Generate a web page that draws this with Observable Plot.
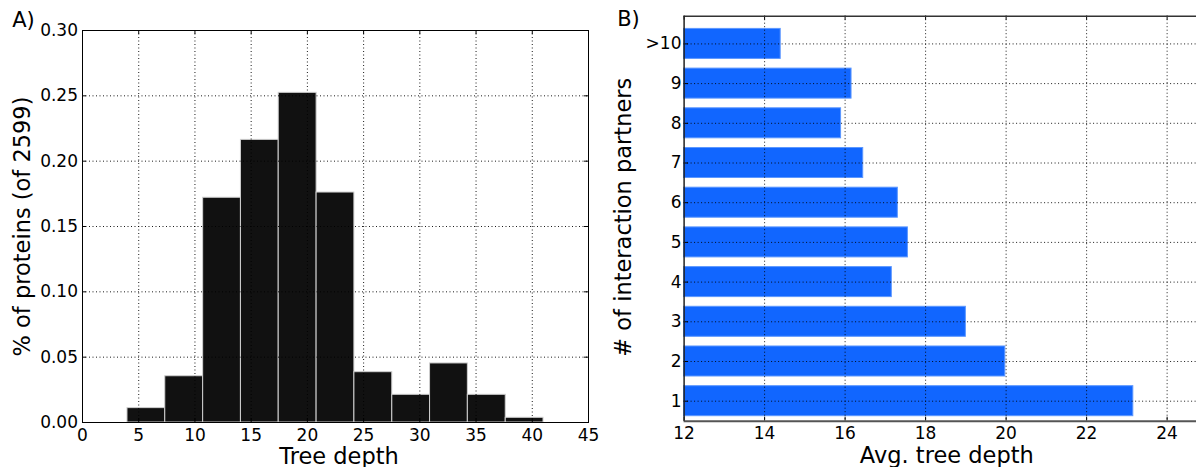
<!DOCTYPE html>
<html><head><meta charset="utf-8">
<script src="https://cdn.jsdelivr.net/npm/d3@7"></script>
<script src="https://cdn.jsdelivr.net/npm/@observablehq/plot@0.6"></script>
<style>
body{margin:0;background:#fff;font-family:"DejaVu Sans",sans-serif;}
#wrap{width:1196px;height:467px;display:flex;overflow:hidden;}
#wrap svg{display:block;}
</style></head><body>
<div id="wrap"><div id="a"></div><div id="b"></div></div>
<script>
// Panel A: histogram of tree depth
const depthBinEdges = [4, 7.36, 10.73, 14.09, 17.45, 20.82, 24.18, 27.55, 30.91, 34.27, 37.64, 41];
const proteinShare = [0.011, 0.0354, 0.172, 0.2163, 0.2523, 0.176, 0.0385, 0.0212, 0.0452, 0.0212, 0.0036];
const depthTicks = [0, 5, 10, 15, 20, 25, 30, 35, 40, 45];
const shareTicks = [0, 0.05, 0.10, 0.15, 0.20, 0.25, 0.30];

// Panel B: average tree depth per number of interaction partners
const partnerLabels = ["1", "2", "3", "4", "5", "6", "7", "8", "9", ">10"];
const avgDepth = [23.16, 19.98, 19.0, 17.16, 17.56, 17.31, 16.45, 15.90, 16.16, 14.40];
const avgDepthTicks = [12, 14, 16, 18, 20, 22, 24];

const FONT = "DejaVu Sans";
const TICKFS = 17, LABELFS = 22.5, TAGFS = 21;

const hist = proteinShare.map((v, i) => ({x1: depthBinEdges[i], x2: depthBinEdges[i + 1], share: v}));

const hA = 467, mtA = 30, mbA = 45;
const frameHA = hA - mtA - mbA;
const mlA = 82, mrA = 12, wA = 600;
const frameWA = wA - mlA - mrA;

const plotA = Plot.plot({
  width: wA, height: hA,
  marginLeft: mlA, marginRight: mrA, marginTop: mtA, marginBottom: mbA,
  style: {fontFamily: FONT, color: "black", background: "white", overflow: "visible"},
  x: {domain: [0, 45], label: null},
  y: {domain: [0, 0.30], label: null},
  marks: [
    Plot.rect(hist, {x1: "x1", x2: "x2", y1: 0, y2: "share", fill: "#111", stroke: "#d0d0d0", strokeWidth: 1}),
    Plot.gridX(depthTicks.slice(1, -1), {stroke: "black", strokeOpacity: 0.9, strokeDasharray: "1,2.5"}),
    Plot.gridY(shareTicks.slice(1, -1), {stroke: "black", strokeOpacity: 0.9, strokeDasharray: "1,2.5"}),
    // inward tick marks
    Plot.ruleX(depthTicks, {insetTop: frameHA - 4, stroke: "black"}),
    Plot.ruleX(depthTicks, {insetBottom: frameHA - 4, stroke: "black"}),
    Plot.ruleY(shareTicks, {insetRight: frameWA - 4, stroke: "black"}),
    Plot.ruleY(shareTicks, {insetLeft: frameWA - 4, stroke: "black"}),
    Plot.frame({stroke: "black"}),
    Plot.axisX(depthTicks, {tickSize: 0, tickPadding: 6, fontSize: TICKFS, label: null}),
    Plot.axisY(shareTicks, {tickSize: 0, tickPadding: 4.5, fontSize: TICKFS, tickFormat: d3.format(".2f"), label: null}),
    Plot.text(["Tree depth"], {frameAnchor: "bottom", dx: 3.5, dy: 34.3, fontSize: LABELFS, lineAnchor: "middle"}),
    Plot.text(["% of proteins (of 2599)"], {frameAnchor: "left", rotate: -90, dx: -59.5, dy: 0, fontSize: LABELFS, lineAnchor: "middle", textAnchor: "middle"}),
    Plot.text(["A)"], {frameAnchor: "top-left", dx: -70.3, dy: -10.2, fontSize: TAGFS, lineAnchor: "middle", textAnchor: "start"})
  ]
});
document.getElementById("a").append(plotA);

// Panel B
const bars = avgDepth.map((v, i) => ({k: i + 1, label: partnerLabels[i], v}));
const hB = 467, mtB = 15.7, mbB = 46.3, mlB = 83.6, mrB = 0, wB = 596;
const frameHB = hB - mtB - mbB;
const yDomB = [0.496, 10.698];
const xDomB = [12, 24.73];
const barHalf = 0.378;

const plotB = Plot.plot({
  width: wB, height: hB,
  marginLeft: mlB, marginRight: mrB, marginTop: mtB, marginBottom: mbB,
  style: {fontFamily: FONT, color: "black", background: "white", overflow: "visible"},
  x: {domain: xDomB, label: null},
  y: {domain: yDomB, label: null},
  marks: [
    Plot.rect(bars, {x1: xDomB[0], x2: "v", y1: d => d.k - barHalf, y2: d => d.k + barHalf, fill: "#1166ff", stroke: "#5c97ff", strokeWidth: 1}),
    Plot.gridX(avgDepthTicks.slice(1), {stroke: "black", strokeOpacity: 0.9, strokeDasharray: "1,2.5"}),
    Plot.gridY(bars.map(d => d.k), {stroke: "black", strokeOpacity: 0.9, strokeDasharray: "1,2.5"}),
    Plot.ruleX(avgDepthTicks, {insetTop: frameHB - 4, stroke: "black"}),
    Plot.ruleX(avgDepthTicks, {insetBottom: frameHB - 4, stroke: "black"}),
    Plot.ruleY(bars.map(d => d.k), {x1: xDomB[0], x2: xDomB[1], insetRight: 512 - 4, stroke: "black"}),
    Plot.ruleY([yDomB[1]], {stroke: "#333", strokeWidth: 1.5}),
    Plot.ruleY([yDomB[0]], {stroke: "#555", strokeWidth: 2}),
    Plot.ruleX([xDomB[0]], {stroke: "#222", strokeWidth: 1.5}),
    Plot.axisX(avgDepthTicks, {tickSize: 0, tickPadding: 6, fontSize: TICKFS, label: null}),
    Plot.axisY(bars.map(d => d.k), {tickSize: 0, tickPadding: 2.6, fontSize: TICKFS, tickFormat: k => partnerLabels[k - 1], label: null}),
    Plot.text(["Avg. tree depth"], {frameAnchor: "bottom", dx: 6.5, dy: 34.6, fontSize: LABELFS, lineAnchor: "middle"}),
    Plot.text(["# of interaction partners"], {frameAnchor: "left", rotate: -90, dx: -60, dy: -1.5, fontSize: LABELFS, lineAnchor: "middle", textAnchor: "middle"}),
    Plot.text(["B)"], {frameAnchor: "top-left", dx: -66.9, dy: 2.6, fontSize: TAGFS, lineAnchor: "middle", textAnchor: "start"})
  ]
});
document.getElementById("b").append(plotB);
</script>
</body></html>
